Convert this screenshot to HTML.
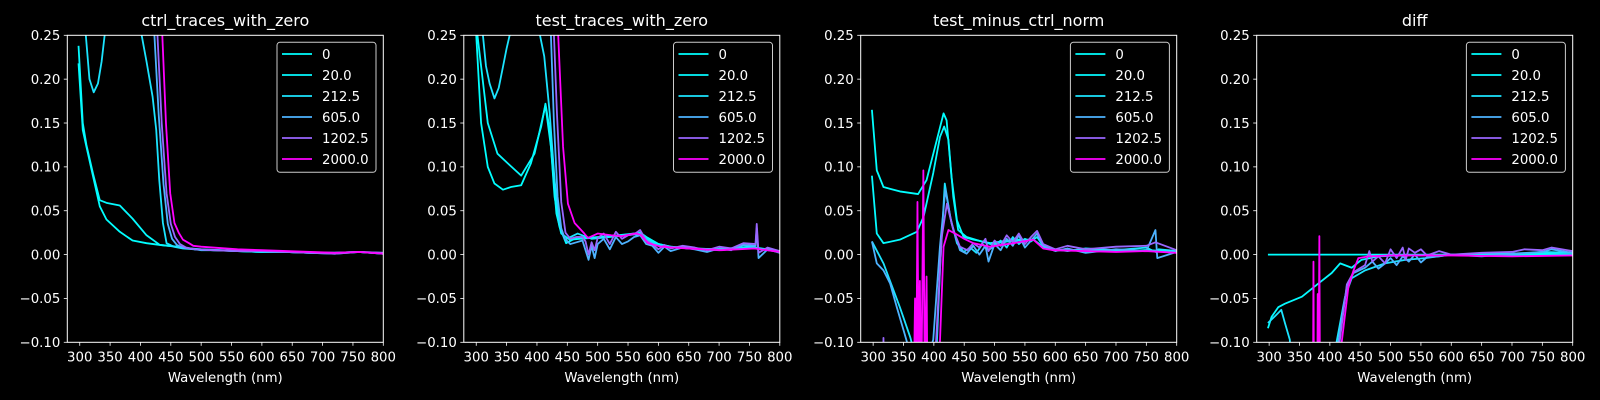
<!DOCTYPE html>
<html><head><meta charset="utf-8"><title>Spectral traces</title>
<style>
html,body{margin:0;padding:0;background:#000;width:1600px;height:400px;overflow:hidden;}
svg{display:block;font-family:"DejaVu Sans","Liberation Sans",sans-serif;}
</style></head>
<body>
<svg id="fig" width="1600" height="400" viewBox="0 0 1600 400">
<rect width="1600" height="400" fill="#000"/>
</svg>
<script>
const xTicks = [300,350,400,450,500,550,600,650,700,750,800];
const yTicks = [0.25,0.20,0.15,0.10,0.05,0.00,-0.05,-0.10];
const yTickLabels = ["0.25","0.20","0.15","0.10","0.05","0.00","\u22120.05","\u22120.10"];
const seriesLabels = ["0","20.0","212.5","605.0","1202.5","2000.0"];
const panelTitles = ["ctrl_traces_with_zero","test_traces_with_zero","test_minus_ctrl_norm","diff"];

// Panel 1: ctrl_traces_with_zero
const p1_x0 = [298,305,311,322,333,344,366,387,410,432,460,481,500,530,560,600,640,680,720,760,800];
const p1_y0 = [0.218,0.142,0.123,0.089,0.055,0.040,0.026,0.016,0.013,0.011,0.009,0.007,0.005,0.005,0.004,0.003,0.003,0.002,0.001,0.003,0.001];
const p1_x20 = [298,305,311,322,333,344,366,387,410,432,460,481,500,530,560,600,640,680,720,760,800];
const p1_y20 = [0.238,0.150,0.125,0.092,0.062,0.059,0.056,0.041,0.022,0.011,0.009,0.007,0.006,0.005,0.004,0.003,0.003,0.002,0.002,0.003,0.001];
const p1_x212 = [300,310,316,323,330,336,341,345,398,402,410,420,426,431,437,443,455,470,490,520,560,600,640,680,720,760,800];
const p1_y212 = [0.40,0.25,0.20,0.185,0.195,0.22,0.25,0.30,0.35,0.25,0.22,0.18,0.142,0.085,0.036,0.013,0.009,0.007,0.006,0.005,0.004,0.003,0.003,0.002,0.002,0.003,0.001];
const p1_x605 = [300,420,423,430,438,445,452,460,470,490,520,560,600,640,680,720,760,800];
const p1_y605 = [0.40,0.30,0.25,0.16,0.08,0.035,0.018,0.011,0.008,0.006,0.005,0.004,0.004,0.003,0.002,0.002,0.003,0.002];
const p1_x1202 = [300,425,428,435,443,450,457,465,475,490,520,560,600,640,680,720,760,800];
const p1_y1202 = [0.40,0.30,0.25,0.15,0.07,0.035,0.02,0.012,0.008,0.006,0.005,0.004,0.004,0.003,0.002,0.001,0.003,0.002];
const p1_x2000 = [300,433,436,442,449,456,463,470,480,487,500,520,560,600,640,680,720,760,800];
const p1_y2000 = [0.40,0.30,0.25,0.15,0.07,0.036,0.025,0.017,0.013,0.010,0.009,0.008,0.006,0.005,0.004,0.003,0.002,0.003,0.001];

// Panel 2: test_traces_with_zero
const p2_x0 = [300,308,319,330,344,357,374,390,407,414,421,429,437,448,467,484,500,520,540,560,570,580,600,620,650,700,750,800];
const p2_y0 = [0.25,0.15,0.10,0.081,0.074,0.077,0.079,0.104,0.146,0.172,0.142,0.066,0.032,0.013,0.02,0.019,0.02,0.021,0.022,0.024,0.025,0.02,0.012,0.009,0.007,0.006,0.008,0.004];
const p2_x20 = [302,319,335,352,374,396,414,423,432,440,454,470,490,520,560,570,580,600,620,650,700,750,800];
const p2_y20 = [0.25,0.15,0.115,0.104,0.09,0.115,0.17,0.123,0.047,0.024,0.017,0.018,0.019,0.021,0.024,0.025,0.02,0.012,0.009,0.007,0.006,0.009,0.004];
const p2_x212 = [305,311,316,322,330,337,344,350,355,360,398,405,412,421,429,437,446,467,490,520,560,570,580,600,650,700,750,800];
const p2_y212 = [0.35,0.25,0.215,0.195,0.178,0.19,0.214,0.235,0.25,0.3,0.3,0.25,0.226,0.161,0.085,0.036,0.017,0.024,0.018,0.02,0.023,0.022,0.018,0.01,0.007,0.005,0.008,0.003];
const p2_x605 = [300,420,423,428,434,440,446,455,465,475,480,485,490,495,500,510,520,530,540,550,560,570,580,590,600,610,620,640,660,680,700,720,740,760,762,765,780,800];
const p2_y605 = [0.40,0.30,0.25,0.15,0.066,0.03,0.018,0.012,0.014,0.016,0.005,-0.006,0.01,-0.004,0.012,0.018,0.006,0.02,0.012,0.015,0.02,0.022,0.012,0.01,0.002,0.009,0.004,0.008,0.006,0.003,0.007,0.005,0.011,0.01,0.03,-0.004,0.006,0.002];
const p2_x1202 = [300,425,428,433,440,447,455,465,475,480,485,490,495,500,510,520,530,540,550,560,570,580,590,600,610,620,640,660,680,700,720,740,760,762,765,780,800];
const p2_y1202 = [0.40,0.30,0.25,0.16,0.06,0.025,0.018,0.02,0.02,0.015,0.0,0.014,0.005,0.019,0.024,0.012,0.026,0.018,0.022,0.023,0.028,0.016,0.012,0.006,0.011,0.007,0.01,0.008,0.005,0.009,0.007,0.013,0.012,0.035,0.002,0.008,0.004];
const p2_x2000 = [300,432,435,443,451,462,478,484,500,522,540,561,570,583,605,648,703,758,800];
const p2_y2000 = [0.40,0.30,0.25,0.123,0.058,0.036,0.024,0.019,0.024,0.022,0.021,0.024,0.023,0.013,0.009,0.007,0.005,0.007,0.003];

// Panel 3: test_minus_ctrl_norm
const p3_x0 = [298,306,317,344,374,388,405,416,421,429,438,449,465,493,531,564,580,597,650,700,750,800];
const p3_y0 = [0.165,0.096,0.077,0.072,0.069,0.085,0.131,0.161,0.153,0.089,0.039,0.02,0.017,0.013,0.017,0.017,0.009,0.005,0.005,0.004,0.005,0.003];
const p3_x20 = [298,306,317,344,372,383,399,410,417,424,432,440,454,493,531,564,580,597,650,700,750,800];
const p3_y20 = [0.09,0.024,0.013,0.017,0.026,0.043,0.093,0.134,0.146,0.131,0.066,0.028,0.02,0.012,0.016,0.017,0.009,0.005,0.005,0.004,0.005,0.003];
const p3_x212 = [298,317,344,361,375,390,405,410.6,418,427,438,449,460,470,480,490,500,510,520,530,540,550,560,570,580,600,620,650,700,750,765,770,800];
const p3_y212 = [0.015,-0.01,-0.06,-0.094,-0.13,-0.14,-0.1,-0.01,0.081,0.043,0.013,0.003,0.008,0.002,0.012,0.005,0.01,0.016,0.008,0.02,0.012,0.018,0.015,0.02,0.01,0.006,0.004,0.007,0.005,0.008,0.003,0.006,0.004];
const p3_x605 = [298,306,317,328,339,350,360,380,399,410,419,429,443,454,465,475,485,490,500,510,520,530,540,550,560,570,580,600,620,650,700,750,765,768,800];
const p3_y605 = [0.015,-0.01,-0.018,-0.033,-0.06,-0.086,-0.11,-0.14,-0.097,0.009,0.074,0.036,0.005,0.001,0.01,0.0,0.01,-0.008,0.012,0.005,0.018,0.01,0.022,0.008,0.016,0.024,0.01,0.004,0.007,0.002,0.006,0.004,0.028,-0.004,0.003];
const p3_x1202 = [312,316,317,318,330,402,413,421.5,432,443,455,465,475,485,490,500,510,520,530,540,550,560,570,580,600,620,650,700,750,765,800];
const p3_y1202 = [-0.2,-0.2,-0.095,-0.2,-0.2,-0.12,0.02,0.058,0.028,0.009,0.005,0.013,0.008,0.018,0.004,0.016,0.01,0.022,0.014,0.024,0.012,0.02,0.027,0.012,0.006,0.01,0.006,0.009,0.01,0.014,0.005];
const p3_x2000 = [360,363.5,366,369,371,373,375,377,379,381,382.7,385,388,390,393,400,405,410,416,424,435,450,465,492,531,564,580,597,650,700,750,800];
const p3_y2000 = [-0.2,-0.1,-0.2,-0.05,-0.15,0.06,-0.15,-0.03,-0.18,-0.04,0.096,-0.15,-0.025,-0.2,-0.2,-0.2,-0.2,-0.1,0.009,0.028,0.024,0.018,0.013,0.009,0.013,0.017,0.007,0.005,0.004,0.003,0.004,0.002];

// Panel 4: diff
const p4_x0 = [298,800];
const p4_y0 = [0,0];
const p4_x20 = [298,304,315,326,354,381,403,417,436,452,480,520,600,700,800];
const p4_y20 = [-0.084,-0.071,-0.06,-0.056,-0.048,-0.033,-0.021,-0.01,-0.015,-0.006,-0.002,-0.001,0.0,0.001,0.002];
const p4_x212 = [298,310,320,326,334,340,405,411,425,436,458,491,524,557,600,650,700,750,800];
const p4_y212 = [-0.078,-0.07,-0.063,-0.078,-0.097,-0.15,-0.15,-0.1,-0.048,-0.027,-0.018,-0.01,-0.006,-0.004,0.0,0.001,0.0,0.003,0.002];
const p4_x605 = [300,410,414,428,439,458,470,480,491,500,510,520,530,540,550,560,580,600,650,700,750,765,800];
const p4_y605 = [-0.2,-0.2,-0.1,-0.036,-0.021,-0.015,-0.008,-0.016,-0.01,-0.004,-0.012,-0.002,-0.008,0.0,-0.009,-0.003,-0.002,0.0,-0.002,0.001,0.003,0.006,0.002];
const p4_x1202 = [300,412,416,428,439,458,465,470,480,491,500,510,520,525,530,540,550,560,580,600,650,700,720,750,765,800];
const p4_y1202 = [-0.2,-0.2,-0.1,-0.034,-0.02,-0.012,0.004,-0.008,-0.002,-0.01,0.006,-0.004,0.008,-0.006,0.007,0.002,0.006,-0.001,0.004,0.0,0.002,0.003,0.006,0.005,0.008,0.004];
const p4_x2000 = [300,372,373,374,379,380,381,382.7,384,390,419.5,430.5,439,447,463.5,500,600,700,800];
const p4_y2000 = [-0.2,-0.2,-0.008,-0.2,-0.2,-0.045,-0.2,0.021,-0.2,-0.2,-0.1,-0.037,-0.018,-0.004,-0.002,-0.001,-0.001,-0.002,-0.001];

const seriesColors = ["#00ffff","#05faff","#1be4ff","#4db2ff","#9966ff","#ff00ff"];
const panelsX = [[p1_x0,p1_x20,p1_x212,p1_x605,p1_x1202,p1_x2000],[p2_x0,p2_x20,p2_x212,p2_x605,p2_x1202,p2_x2000],[p3_x0,p3_x20,p3_x212,p3_x605,p3_x1202,p3_x2000],[p4_x0,p4_x20,p4_x212,p4_x605,p4_x1202,p4_x2000]];
const panelsY = [[p1_y0,p1_y20,p1_y212,p1_y605,p1_y1202,p1_y2000],[p2_y0,p2_y20,p2_y212,p2_y605,p2_y1202,p2_y2000],[p3_y0,p3_y20,p3_y212,p3_y605,p3_y1202,p3_y2000],[p4_y0,p4_y20,p4_y212,p4_y605,p4_y1202,p4_y2000]];

const NS = "http://www.w3.org/2000/svg";
const svg = document.getElementById("fig");
const XMIN = 279.5, XMAX = 800, YMIN = -0.10, YMAX = 0.25;
const TOP = 35.3, BOT = 342.3, W = 316;
const LEFTS = [67.3, 463.8, 860.7, 1256.7];

function mk(tag, attrs, parent){
  const e = document.createElementNS(NS, tag);
  for (const k in attrs) e.setAttribute(k, attrs[k]);
  (parent||svg).appendChild(e);
  return e;
}

// clip a segment in data space to the axis limits (Liang-Barsky)
function clipSeg(x0, y0, x1, y1){
  let t0 = 0, t1 = 1;
  const dx = x1 - x0, dy = y1 - y0;
  const p = [-dx, dx, -dy, dy];
  const q = [x0 - XMIN, XMAX - x0, y0 - YMIN, YMAX - y0];
  for (let i = 0; i < 4; i++){
    if (p[i] === 0){ if (q[i] < 0) return null; }
    else {
      const r = q[i] / p[i];
      if (p[i] < 0){ if (r > t1) return null; if (r > t0) t0 = r; }
      else { if (r < t0) return null; if (r < t1) t1 = r; }
    }
  }
  return [x0 + t0*dx, y0 + t0*dy, x0 + t1*dx, y0 + t1*dy, t0, t1];
}

LEFTS.forEach((L, p) => {
  const xs = v => L + (v - XMIN) / (XMAX - XMIN) * W;
  const ys = v => TOP + (YMAX - v) / (YMAX - YMIN) * (BOT - TOP);
  const g = mk("g", {});
  
  

  const sg = mk("g", {}, g);
  panelsX[p].forEach((xarr, s) => {
    const yarr = panelsY[p][s];
    let d = "", penX = null, penY = null;
    for (let i = 0; i + 1 < xarr.length; i++){
      const c = clipSeg(xarr[i], yarr[i], xarr[i+1], yarr[i+1]);
      if (!c) { penX = null; continue; }
      const ax = xs(c[0]), ay = ys(c[1]), bx = xs(c[2]), by = ys(c[3]);
      if (penX === null || Math.abs(penX - ax) > 0.01 || Math.abs(penY - ay) > 0.01) d += "M" + ax.toFixed(2) + "," + ay.toFixed(2);
      d += "L" + bx.toFixed(2) + "," + by.toFixed(2);
      penX = bx; penY = by;
      if (c[5] < 1) penX = null;
    }
    const path = mk("path", {d: d, fill: "none", stroke: seriesColors[s], "stroke-width": 1.8, "stroke-linejoin": "round"}, sg);
    
    
  });

  const fr = mk("rect", {x: L, y: TOP, width: W, height: BOT - TOP, fill: "none", stroke: "#fff", "stroke-width": 1}, g);
  
  

  xTicks.forEach(t => {
    const x = xs(t);
    mk("line", {x1: x, x2: x, y1: BOT, y2: BOT + 3.5, stroke: "#fff", "stroke-width": 0.8}, g);
    const tx = mk("text", {x: x, y: BOT + 19, fill: "#fff", "font-size": 13.3, "text-anchor": "middle"}, g);
    tx.textContent = String(t);
    
    
  });
  yTicks.forEach((t, i) => {
    const y = ys(t);
    mk("line", {x1: L - 3.5, x2: L, y1: y, y2: y, stroke: "#fff", "stroke-width": 0.8}, g);
    const ty = mk("text", {x: L - 7, y: y + 4.8, fill: "#fff", "font-size": 13.3, "text-anchor": "end"}, g);
    ty.textContent = yTickLabels[i];
    
    
  });
  const tt = mk("text", {x: L + W / 2, y: 26, fill: "#fff", "font-size": 16, "text-anchor": "middle"}, g);
  tt.textContent = panelTitles[p];
  
  
  const xl = mk("text", {x: L + W / 2, y: 382, fill: "#fff", "font-size": 13.3, "text-anchor": "middle"}, g);
  xl.textContent = "Wavelength (nm)";
  
  

  const lx = L + 209.7, ly = 42.3;
  const lg = mk("g", {}, g);
  
  
  mk("rect", {x: lx, y: ly, width: 99, height: 130, rx: 3, fill: "#000", "fill-opacity": 0.8, stroke: "#cccccc", "stroke-width": 1}, lg);
  seriesLabels.forEach((lab, s) => {
    const cy = 54 + s * 21;
    const e = mk("g", {}, lg);
    
    
    mk("line", {x1: lx + 5, x2: lx + 35, y1: cy, y2: cy, stroke: seriesColors[s], "stroke-width": 1.8}, e);
    const t = mk("text", {x: lx + 45, y: cy + 4.8, fill: "#fff", "font-size": 13.3}, e);
    t.textContent = lab;
  });
});
</script>
</body></html>
